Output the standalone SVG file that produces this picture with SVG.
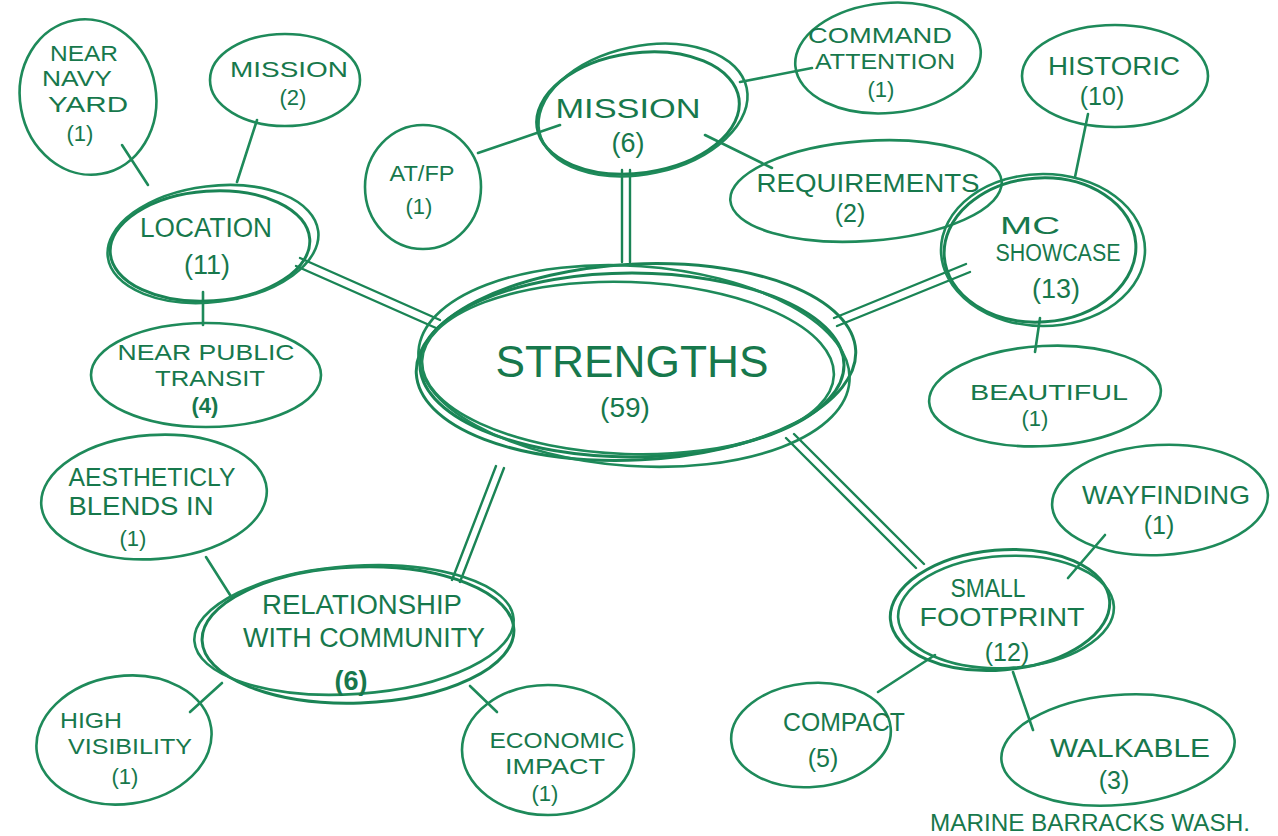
<svg xmlns="http://www.w3.org/2000/svg" width="1278" height="836" viewBox="0 0 1278 836">
<style>
.n{fill:none;stroke:#1e8a5a;stroke-width:2.6}
.m{fill:none;stroke:#1a8455;stroke-width:3}
.c{fill:none;stroke:#1e8a5a;stroke-width:2.6;stroke-linecap:round}
.d{fill:none;stroke:#1a8455;stroke-width:2.4;stroke-linecap:round}
text{font-family:"Liberation Sans","DejaVu Sans",sans-serif;fill:#17784c;text-anchor:middle;font-size:22px}
.big{font-size:44px}
.bg{font-size:28px}
.md{font-size:25px}
.lg{font-size:27px}
</style>
<rect width="1278" height="836" fill="#ffffff"/>
<g id="connectors">
<path class="d" d="M622 170 L622 262 M630 170 L630 262"/>
<path class="d" d="M300 258 L440 320 M296 266 L436 328"/>
<path class="d" d="M834 318 L966 264 M837 326 L970 272"/>
<path class="d" d="M496 466 L452 580 M504 468 L460 582"/>
<path class="d" d="M786 438 L916 568 M794 434 L924 564"/>
<path class="c" d="M148 185 L122 145"/>
<path class="c" d="M237 182 L257 120"/>
<path class="c" d="M203 292 L203 325"/>
<path class="c" d="M478 153 L560 125"/>
<path class="c" d="M740 82 L812 68"/>
<path class="c" d="M705 135 L772 168"/>
<path class="c" d="M1075 177 L1088 114"/>
<path class="c" d="M1040 318 L1035 352"/>
<path class="c" d="M206 557 L232 598"/>
<path class="c" d="M190 712 L222 683"/>
<path class="c" d="M470 686 L497 712"/>
<path class="c" d="M1068 578 L1105 535"/>
<path class="c" d="M878 692 L935 655"/>
<path class="c" d="M1013 672 L1033 730"/>
</g>
<g id="strengths">
<ellipse class="m" cx="632" cy="365" rx="212" ry="92"/>
<ellipse class="m" cx="636" cy="362" rx="220" ry="98" transform="rotate(-3 636 362)"/>
<ellipse class="n" cx="628" cy="368" rx="206" ry="86" transform="rotate(2 628 368)"/>
<ellipse class="n" cx="634" cy="366" rx="216" ry="100" transform="rotate(4 634 366)"/>
<text class="big" x="632" y="377" textLength="273" lengthAdjust="spacingAndGlyphs">STRENGTHS</text>
<text class="bg" x="625" y="417">(59)</text>
</g>
<g id="mission6">
<ellipse class="m" cx="638" cy="113" rx="102" ry="60" transform="rotate(-8 638 113)"/>
<ellipse class="n" cx="643" cy="110" rx="106" ry="64" transform="rotate(-12 643 110)"/>
<text class="lg" x="628" y="118" textLength="145" lengthAdjust="spacingAndGlyphs">MISSION</text>
<text class="lg" x="628" y="152">(6)</text>
</g>
<g id="location">
<ellipse class="m" cx="210" cy="246" rx="100" ry="55" transform="rotate(-4 210 246)"/>
<ellipse class="n" cx="213" cy="244" rx="106" ry="58" transform="rotate(-7 213 244)"/>
<text class="lg" x="206" y="237" textLength="132" lengthAdjust="spacingAndGlyphs">LOCATION</text>
<text class="lg" x="207" y="274">(11)</text>
</g>
<g id="navyyard">
<ellipse class="n" cx="88" cy="97" rx="68" ry="78" transform="rotate(-10 88 97)"/>
<text x="84" y="61" textLength="68" lengthAdjust="spacingAndGlyphs">NEAR</text>
<text x="77" y="86" textLength="70" lengthAdjust="spacingAndGlyphs">NAVY</text>
<text x="88" y="112" textLength="80" lengthAdjust="spacingAndGlyphs">YARD</text>
<text x="80" y="141">(1)</text>
</g>
<g id="mission2">
<ellipse class="n" cx="285" cy="80" rx="75" ry="46"/>
<text x="289" y="77" textLength="118" lengthAdjust="spacingAndGlyphs">MISSION</text>
<text x="293" y="105">(2)</text>
</g>
<g id="transit">
<ellipse class="n" cx="206" cy="375" rx="115" ry="52"/>
<text x="206" y="360" textLength="177" lengthAdjust="spacingAndGlyphs">NEAR PUBLIC</text>
<text x="210" y="386" textLength="110" lengthAdjust="spacingAndGlyphs">TRANSIT</text>
<text x="205" y="413" style="font-weight:bold">(4)</text>
</g>
<g id="atfp">
<ellipse class="n" cx="423" cy="187" rx="58" ry="62"/>
<text x="422" y="181" textLength="65" lengthAdjust="spacingAndGlyphs">AT/FP</text>
<text x="419" y="214">(1)</text>
</g>
<g id="command">
<ellipse class="n" cx="888" cy="58" rx="93" ry="55" transform="rotate(-5 888 58)"/>
<text x="880" y="43" textLength="144" lengthAdjust="spacingAndGlyphs">COMMAND</text>
<text x="885" y="69" textLength="140" lengthAdjust="spacingAndGlyphs">ATTENTION</text>
<text x="881" y="97">(1)</text>
</g>
<g id="requirements">
<ellipse class="n" cx="866" cy="191" rx="136" ry="50" transform="rotate(-4 866 191)"/>
<text class="md" x="868" y="192" textLength="223" lengthAdjust="spacingAndGlyphs">REQUIREMENTS</text>
<text class="md" x="850" y="222">(2)</text>
</g>
<g id="historic">
<ellipse class="n" cx="1115" cy="76" rx="93" ry="51"/>
<text class="md" x="1114" y="75" textLength="132" lengthAdjust="spacingAndGlyphs">HISTORIC</text>
<text class="md" x="1102" y="105">(10)</text>
</g>
<g id="showcase">
<ellipse class="m" cx="1040" cy="250" rx="96" ry="72" transform="rotate(-4 1040 250)"/>
<ellipse class="n" cx="1043" cy="250" rx="102" ry="76"/>
<text x="1030" y="234" textLength="60" lengthAdjust="spacingAndGlyphs" style="font-size:23px">MC</text>
<text x="1058" y="261" textLength="125" lengthAdjust="spacingAndGlyphs" style="font-size:23px">SHOWCASE</text>
<text class="lg" x="1056" y="298">(13)</text>
</g>
<g id="beautiful">
<ellipse class="n" cx="1045" cy="396" rx="116" ry="50" transform="rotate(-3 1045 396)"/>
<text x="1049" y="400" textLength="158" lengthAdjust="spacingAndGlyphs">BEAUTIFUL</text>
<text x="1035" y="426">(1)</text>
</g>
<g id="aesthetic">
<ellipse class="n" cx="154" cy="497" rx="113" ry="62" transform="rotate(-4 154 497)"/>
<text class="md" x="152" y="486" textLength="167" lengthAdjust="spacingAndGlyphs">AESTHETICLY</text>
<text class="md" x="141" y="515" textLength="145" lengthAdjust="spacingAndGlyphs">BLENDS IN</text>
<text x="133" y="546">(1)</text>
</g>
<g id="relationship">
<ellipse class="m" cx="358" cy="635" rx="156" ry="68" transform="rotate(-2 358 635)"/>
<ellipse class="n" cx="354" cy="630" rx="160" ry="64" transform="rotate(-4 354 630)"/>
<text class="lg" x="362" y="614" textLength="200" lengthAdjust="spacingAndGlyphs">RELATIONSHIP</text>
<text class="lg" x="364" y="647" textLength="242" lengthAdjust="spacingAndGlyphs">WITH COMMUNITY</text>
<text class="lg" x="351" y="690" style="font-weight:bold">(6)</text>
</g>
<g id="visibility">
<ellipse class="n" cx="124" cy="740" rx="88" ry="64" transform="rotate(-8 124 740)"/>
<text x="91" y="728" textLength="62" lengthAdjust="spacingAndGlyphs">HIGH</text>
<text x="130" y="754" textLength="124" lengthAdjust="spacingAndGlyphs">VISIBILITY</text>
<text x="125" y="784">(1)</text>
</g>
<g id="economic">
<ellipse class="n" cx="548" cy="750" rx="86" ry="65"/>
<text x="557" y="748" textLength="135" lengthAdjust="spacingAndGlyphs">ECONOMIC</text>
<text x="555" y="774" textLength="100" lengthAdjust="spacingAndGlyphs">IMPACT</text>
<text x="545" y="801">(1)</text>
</g>
<g id="wayfinding">
<ellipse class="n" cx="1160" cy="500" rx="108" ry="55" transform="rotate(-3 1160 500)"/>
<text class="md" x="1166" y="504" textLength="168" lengthAdjust="spacingAndGlyphs">WAYFINDING</text>
<text class="md" x="1159" y="534">(1)</text>
</g>
<g id="footprint">
<ellipse class="m" cx="1000" cy="610" rx="110" ry="60" transform="rotate(-5 1000 610)"/>
<ellipse class="n" cx="1006" cy="612" rx="108" ry="56" transform="rotate(-3 1006 612)"/>
<text class="md" x="988" y="597" textLength="75" lengthAdjust="spacingAndGlyphs">SMALL</text>
<text class="md" x="1002" y="626" textLength="165" lengthAdjust="spacingAndGlyphs">FOOTPRINT</text>
<text class="md" x="1007" y="661">(12)</text>
</g>
<g id="compact">
<ellipse class="n" cx="811" cy="735" rx="80" ry="52" transform="rotate(-5 811 735)"/>
<text class="md" x="844" y="731" textLength="122" lengthAdjust="spacingAndGlyphs">COMPACT</text>
<text class="md" x="823" y="767">(5)</text>
</g>
<g id="walkable">
<ellipse class="n" cx="1118" cy="750" rx="117" ry="55" transform="rotate(-5 1118 750)"/>
<text class="md" x="1130" y="757" textLength="160" lengthAdjust="spacingAndGlyphs">WALKABLE</text>
<text class="md" x="1114" y="789">(3)</text>
</g>
<g id="caption">
<text x="1090" y="831" style="font-size:23px" textLength="320" lengthAdjust="spacingAndGlyphs">MARINE BARRACKS WASH.</text>
</g>
</svg>
